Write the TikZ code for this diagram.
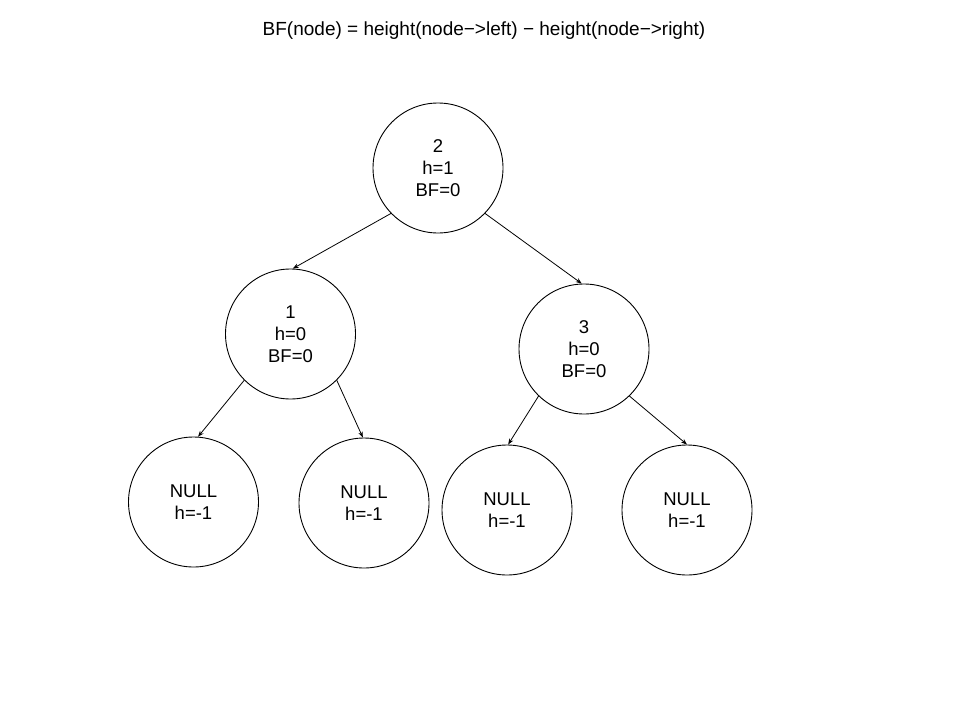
\documentclass[tikz,border=0pt]{standalone}
\usepackage{fontspec}
\setmainfont{Liberation Sans}
\usetikzlibrary{arrows.meta}
\begin{document}
\begin{tikzpicture}[x=1pt,y=-1pt,
  treenode/.style={draw=black, circle, line width=0.9pt, minimum size=130pt,
    inner sep=0pt, align=center, font=\fontsize{18.5}{21.8}\selectfont},
  link/.style={draw=black, line width=0.8pt, -{Stealth[length=6pt,width=4.5pt]}}]
  \useasboundingbox[fill=white] (0,0) rectangle (960,720);

  % formula heading
  \node[anchor=base, font=\fontsize{19}{22}\selectfont] (title) at (484,35)
    {BF(node) = height(node−>left) − height(node−>right)};

  % tree nodes
  \node[treenode] (n2) at (438,168) {2\\h=1\\BF=0};
  \node[treenode] (n1) at (290.5,334) {1\\h=0\\BF=0};
  \node[treenode] (n3) at (584,349) {3\\h=0\\BF=0};
  \node[treenode] (l1) at (193.5,502) {NULL\\h=-1};
  \node[treenode] (l2) at (364,503) {NULL\\h=-1};
  \node[treenode] (l3) at (507,510) {NULL\\h=-1};
  \node[treenode] (l4) at (687,510) {NULL\\h=-1};

  % child links
  \draw[link] (n2.224) -- (n1.88);
  \draw[link] (n2.316) -- (n3.92);
  \draw[link] (n1.225) -- (l1.86);
  \draw[link] (n1.315) -- (l2.91);
  \draw[link] (n3.226) -- (l3.89);
  \draw[link] (n3.314) -- (l4.90);
\end{tikzpicture}
\end{document}
